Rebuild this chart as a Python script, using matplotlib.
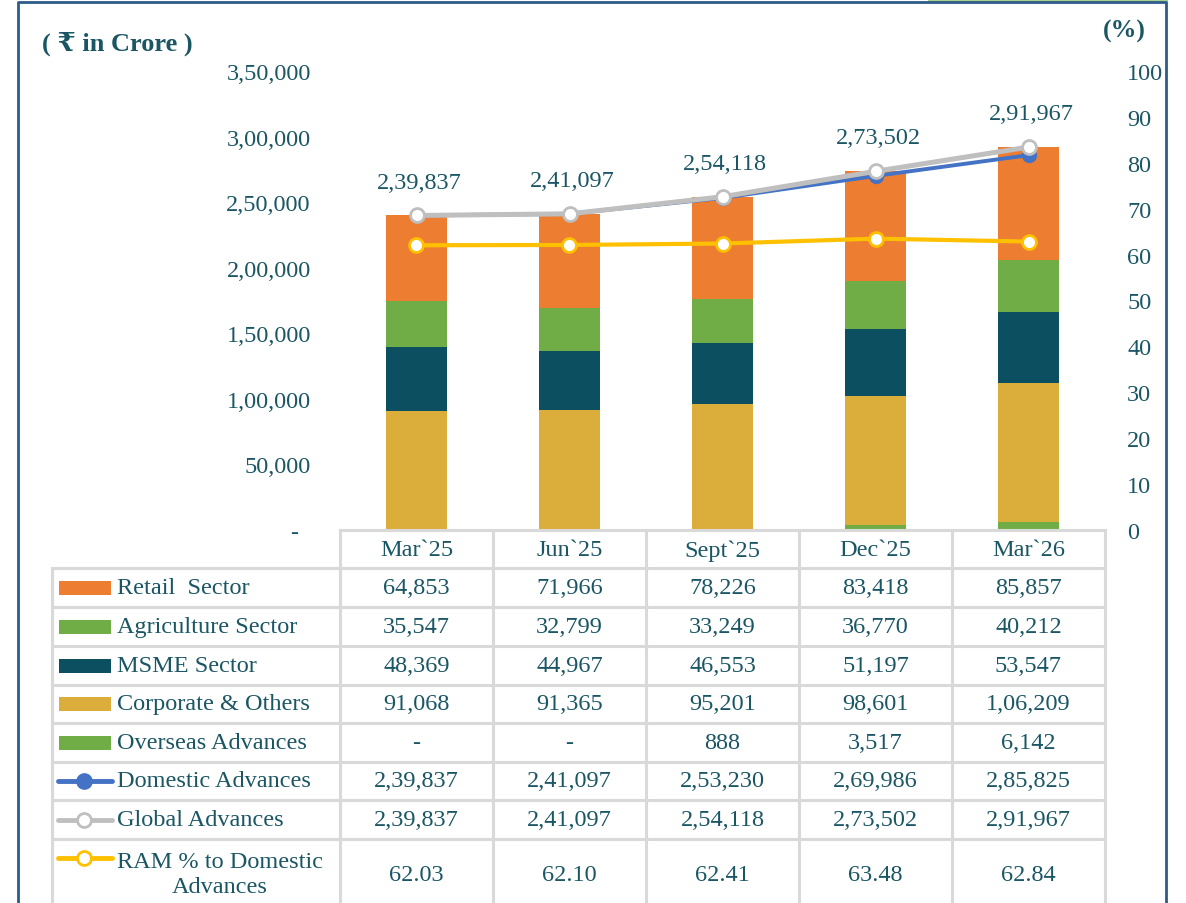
import matplotlib.pyplot as plt
from matplotlib.patches import Rectangle
from matplotlib.lines import Line2D
from matplotlib.ticker import FuncFormatter
import numpy as np

plt.rcParams['font.family'] = ['Liberation Serif', 'DejaVu Serif', 'DejaVu Sans']

categories = ["Mar`25", "Jun`25", "Sept`25", "Dec`25", "Mar`26"]
retail = [64853, 71966, 78226, 83418, 85857]
agri = [35547, 32799, 33249, 36770, 40212]
msme = [48369, 44967, 46553, 51197, 53547]
corporate = [91068, 91365, 95201, 98601, 106209]
overseas = [0, 0, 888, 3517, 6142]
domestic = [239837, 241097, 253230, 269986, 285825]
global_adv = [239837, 241097, 254118, 273502, 291967]
ram_pct = [62.03, 62.10, 62.41, 63.48, 62.84]

TXT = '#1a5664'
C_RETAIL = '#ED7D31'
C_AGRI = '#70AD47'
C_MSME = '#0B4F60'
C_CORP = '#DBAE3C'
C_DOM = '#4472C4'
C_GLOB = '#BFBFBF'
C_RAM = '#FFC000'
GRID = '#D9D9D9'
FS = 17.5


def inr(v):
    # indian digit grouping, 0 shown as dash
    v = int(round(v))
    if v == 0:
        return '-'
    s = str(v)
    if len(s) <= 3:
        return s
    last3 = s[-3:]
    rest = s[:-3]
    groups = []
    while len(rest) > 2:
        groups.insert(0, rest[-2:])
        rest = rest[:-2]
    if rest:
        groups.insert(0, rest)
    return ','.join(groups + [last3])


W, H = 1186, 904
fig = plt.figure(figsize=(W / 100, H / 100), dpi=100)

# plot area in pixels: x 340..1105, y 72..531
ax = fig.add_axes([340 / W, 1 - 531 / H, 765 / W, 459 / H])
x = np.arange(len(categories))
bw = 0.405
bottom = np.zeros(len(x))
for vals, col in [(overseas, C_AGRI), (corporate, C_CORP), (msme, C_MSME),
                  (agri, C_AGRI), (retail, C_RETAIL)]:
    ax.bar(x, vals, bw, bottom=bottom, color=col, zorder=2)
    bottom += np.array(vals)

ax.plot(x, domestic, color=C_DOM, lw=2.8, marker='o', ms=10,
        mfc=C_DOM, mec=C_DOM, zorder=3)
ax.plot(x, global_adv, color=C_GLOB, lw=3.6, marker='o', ms=10,
        mfc='white', mec=C_GLOB, mew=2, zorder=4)
for xi, v in zip(x, global_adv):
    ax.annotate(inr(v), (xi, v), xytext=(2, 24), textcoords='offset points',
                ha='center', va='center', fontsize=FS, color=TXT)

ax.set_xlim(-0.5, len(x) - 0.5)
ax.set_ylim(0, 350000)
ax.set_yticks(np.arange(0, 350001, 50000))
ax.yaxis.set_major_formatter(FuncFormatter(lambda v, p: inr(v) if v else '-  '))
ax.set_xticks([])
ax.tick_params(axis='y', length=0, pad=21, labelsize=FS, labelcolor=TXT)
for s in ax.spines.values():
    s.set_visible(False)

ax2 = ax.twinx()
ax2.plot(x, ram_pct, color=C_RAM, lw=3, marker='o', ms=10,
         mfc='white', mec=C_RAM, mew=2, zorder=5)
ax2.set_ylim(0, 100)
ax2.set_yticks(np.arange(0, 101, 10))
ax2.tick_params(axis='y', length=0, pad=16, labelsize=FS, labelcolor=TXT)
for s in ax2.spines.values():
    s.set_visible(False)

# overlay in pixel coordinates for table, titles and border
ov = fig.add_axes([0, 0, 1, 1], zorder=10)
ov.set_xlim(0, W)
ov.set_ylim(H, 0)
ov.axis('off')
ov.patch.set_visible(False)

ov.text(42, 44, '( ₹ in Crore )', fontsize=FS + 1.5, fontweight='bold', color=TXT,
        ha='left', va='center')
ov.text(1146, 31, '(%)', fontsize=FS + 1, fontweight='bold', color=TXT,
        ha='right', va='center')

col_edges = [340, 493, 646, 799, 952, 1105]
row_edges = [531, 569, 608, 647, 686, 724, 763, 801, 840, 912]
lbl_left = 52

# grid lines
ov.plot([col_edges[0], col_edges[-1]], [row_edges[0]] * 2, color=GRID, lw=2.2)
for ry in row_edges[1:-1]:
    ov.plot([lbl_left, col_edges[-1]], [ry, ry], color=GRID, lw=2.2)
for cx in col_edges:
    ov.plot([cx, cx], [row_edges[0], H], color=GRID, lw=2.2)
ov.plot([lbl_left, lbl_left], [row_edges[1], H], color=GRID, lw=2.2)

for i, cat in enumerate(categories):
    cx = (col_edges[i] + col_edges[i + 1]) / 2
    ov.text(cx, (row_edges[0] + row_edges[1]) / 2 + 1, cat, fontsize=FS, color=TXT,
            ha='center', va='center')

rows = [
    ('Retail  Sector', 'bar', C_RETAIL, None, [inr(v) for v in retail]),
    ('Agriculture Sector', 'bar', C_AGRI, None, [inr(v) for v in agri]),
    ('MSME Sector', 'bar', C_MSME, None, [inr(v) for v in msme]),
    ('Corporate & Others', 'bar', C_CORP, None, [inr(v) for v in corporate]),
    ('Overseas Advances', 'bar', C_AGRI, None, [inr(v) for v in overseas]),
    ('Domestic Advances', 'line', C_DOM, C_DOM, [inr(v) for v in domestic]),
    ('Global Advances', 'line', C_GLOB, 'white', [inr(v) for v in global_adv]),
    ('RAM % to Domestic\nAdvances', 'line', C_RAM, 'white',
     ['%.2f' % v for v in ram_pct]),
]

for r, (label, kind, col, mfc, vals) in enumerate(rows):
    y0, y1 = row_edges[r + 1], row_edges[r + 2]
    yc = (y0 + y1) / 2
    if r == len(rows) - 1:
        ky = y0 + 19
        ov.text(117, yc - 1, label, fontsize=FS, color=TXT, ha='left', va='center',
                multialignment='center', linespacing=1.3)
    else:
        ky = yc
        ov.text(117, yc, label, fontsize=FS, color=TXT, ha='left', va='center')
    if kind == 'bar':
        ov.add_patch(Rectangle((59, ky - 7), 52, 14, color=col, lw=0))
    else:
        ov.add_line(Line2D([58, 112], [ky, ky], color=col, lw=3.5,
                           solid_capstyle='round'))
        ov.add_line(Line2D([84], [ky], marker='o', ms=10, mfc=mfc, mec=col,
                           mew=2, lw=0))
    for i, v in enumerate(vals):
        cx = (col_edges[i] + col_edges[i + 1]) / 2
        ov.text(cx, yc, v, fontsize=FS, color=TXT, ha='center', va='center')

# outer frame
ov.plot([930, 1166], [1, 1], color='#A9D18E', lw=3)
ov.plot([18, 18, 1166, 1166], [H + 5, 3, 3, H + 5], color='#2E5C8A', lw=2)

fig.savefig('out.png', dpi=100)
